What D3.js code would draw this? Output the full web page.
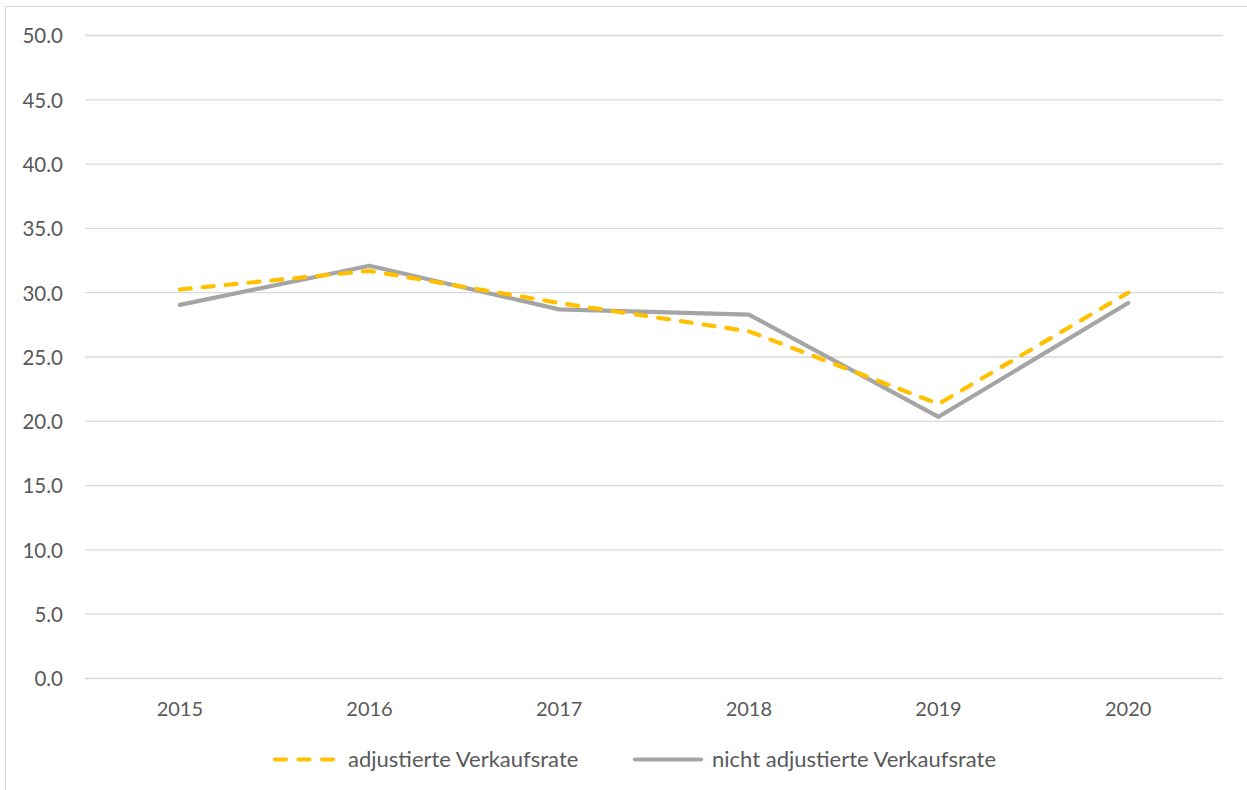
<!DOCTYPE html>
<html><head><meta charset="utf-8">
<script src="https://cdn.jsdelivr.net/npm/d3@7"></script>
<style>body{margin:0;background:#fff}svg{display:block}text{font-family:Lato,"Open Sans",sans-serif;fill:#595959}</style>
</head><body><svg id="c" width="1247" height="790"></svg>
<script>
const years = ["2015","2016","2017","2018","2019","2020"];
const adjusted = [30.25, 31.7, 29.2, 27.0, 21.35, 30.0];
const unadjusted = [29.05, 32.1, 28.7, 28.3, 20.35, 29.2];
const yTicks = [0,5,10,15,20,25,30,35,40,45,50];
const seriesNames = ["adjustierte Verkaufsrate","nicht adjustierte Verkaufsrate"];

const svg = d3.select("#c");
svg.append("rect").attr("x",5.5).attr("y",6.5).attr("width",1260).attr("height",800)
  .attr("fill","none").attr("stroke","#d9d9d9").attr("stroke-width",1);

const x = d3.scaleBand().domain(years).range([85,1223]);
const y = d3.scaleLinear().domain([0,50]).range([678.5,35.5]);

const g = svg.append("g");
g.selectAll("line.grid").data(yTicks).enter().append("line")
  .attr("x1",85).attr("x2",1223).attr("y1",d=>y(d)).attr("y2",d=>y(d))
  .attr("stroke","#d9d9d9").attr("stroke-width",1.3);

const yAxis = g.append("g").attr("transform","translate(85,0)")
  .call(d3.axisLeft(y).tickValues(yTicks).tickFormat(d3.format(".1f")).tickSize(0).tickPadding(22));
yAxis.select(".domain").remove();
yAxis.selectAll("text").style("font-size","20.5px").attr("fill","#595959").attr("dy","0.36em");

const xAxis = g.append("g").attr("transform","translate(0,678.5)")
  .call(d3.axisBottom(x).tickSize(0));
xAxis.select(".domain").remove();
xAxis.selectAll("text").style("font-size","20px").attr("fill","#595959").attr("y",37.5).attr("dy","0");

const line = d3.line().x((d,i)=>x(years[i])+x.bandwidth()/2).y(d=>y(d));
g.append("path").datum(unadjusted).attr("d",line).attr("fill","none")
  .attr("stroke","#A5A5A5").attr("stroke-width",4.2).attr("stroke-linejoin","round").attr("stroke-linecap","round");
g.append("path").datum(adjusted).attr("d",line).attr("fill","none")
  .attr("stroke","#FFC000").attr("stroke-width",4.2).attr("stroke-dasharray","11,12").attr("stroke-linecap","round").attr("stroke-linejoin","round");

// legend
const lg = svg.append("g");
lg.append("line").attr("x1",275).attr("x2",333).attr("y1",759.5).attr("y2",759.5)
  .attr("stroke","#FFC000").attr("stroke-width",4.2).attr("stroke-dasharray","11,12.5").attr("stroke-linecap","round");
lg.append("text").attr("x",348).attr("y",767).style("font-size","22px").text(seriesNames[0]);
lg.append("line").attr("x1",635).attr("x2",701).attr("y1",759.5).attr("y2",759.5)
  .attr("stroke","#A5A5A5").attr("stroke-width",4.2).attr("stroke-linecap","round");
lg.append("text").attr("x",712).attr("y",767).style("font-size","22px").text(seriesNames[1]);
</script></body></html>
